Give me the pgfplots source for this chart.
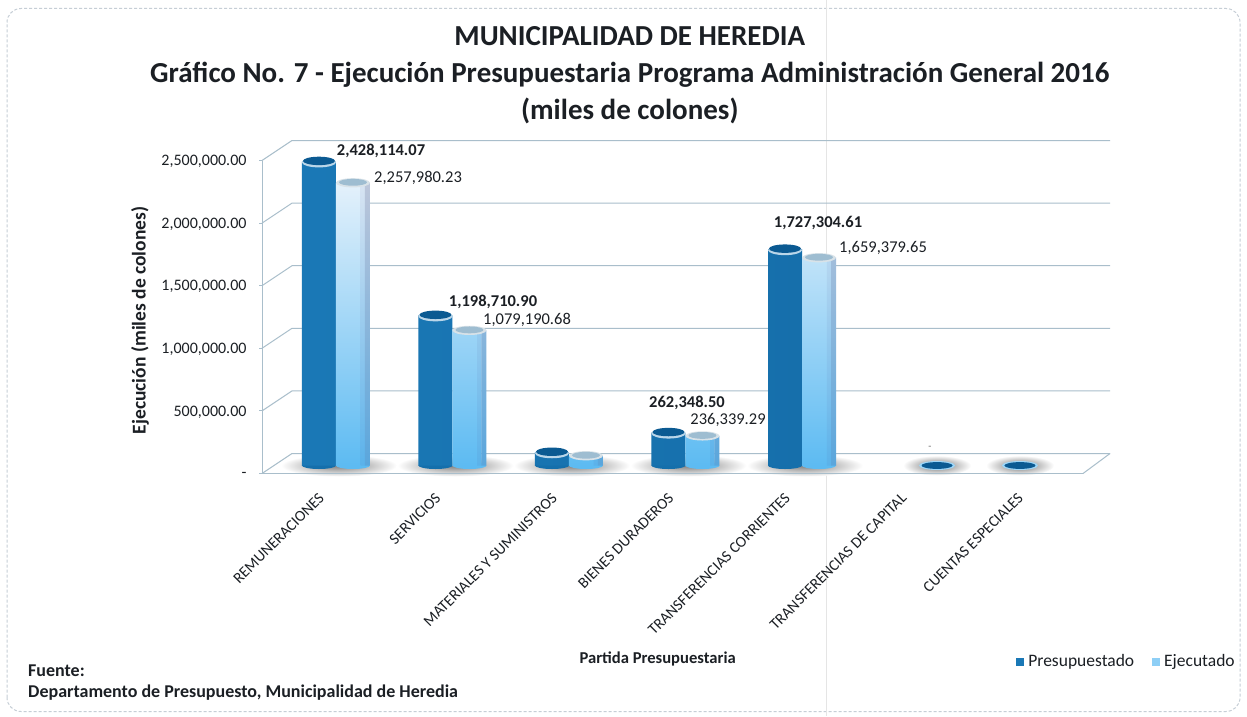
\documentclass[border=0pt]{standalone}
\usepackage{fontspec}
\setmainfont{Carlito}
\usepackage{pgfplots}
\usepackage{pgfplotstable}
\pgfplotsset{compat=1.18}
\definecolor{gridc}{HTML}{A9BECB}
\definecolor{framec}{HTML}{C6CED6}
\definecolor{dk}{HTML}{1A78B6}
\definecolor{dkd}{HTML}{0B5A92}
\definecolor{lt}{HTML}{5DBBF2}
\definecolor{lttop}{HTML}{E4F1FB}
\definecolor{ltaT}{HTML}{D8E4F2}
\definecolor{ltaB}{HTML}{5BB2EA}
\definecolor{ltbT}{HTML}{BCC6DA}
\definecolor{ltbB}{HTML}{5AA6DC}
\definecolor{txt}{HTML}{1B1F24}
\pgfplotstableread{
x pres ejec
0 2428114.07 2257980.23
1 1198710.90 1079190.68
2 105000 78000
3 262348.50 236339.29
4 1727304.61 1659379.65
}\data
\pgfplotstableread{
x v
5.159 0
5.871 0
}\zero
\newcommand{\Pt}[2]{(canvas cs:x=#1pt,y=#2pt)}
\pgfdeclareplotmark{topdk}{\fill[draw=none,white!70!dk] \Pt{0}{-0.9} ellipse [x radius=17pt,y radius=5pt];\fill[draw=none,dkd] \Pt{0}{0.6} ellipse [x radius=16pt,y radius=4.2pt];}
\pgfdeclareplotmark{toplt}{\fill[draw=none,white!55!gridc] \Pt{0}{0} ellipse [x radius=17pt,y radius=4.6pt];\fill[draw=none,gridc!85!lt] \Pt{0}{0.5} ellipse [x radius=14pt,y radius=3.4pt];}
\pgfdeclareplotmark{basedk}{\fill[draw=none,dk!70!dkd] \Pt{0}{0} ellipse [x radius=17pt,y radius=3.5pt];}
\pgfdeclareplotmark{baselt}{\fill[draw=none,lt] \Pt{0}{0} ellipse [x radius=17pt,y radius=3.5pt];}
\pgfdeclareplotmark{flat}{\fill[draw=none,white!40!lt] \Pt{0}{0} ellipse [x radius=18pt,y radius=4.5pt];\fill[draw=none,dkd] \Pt{0}{0} ellipse [x radius=15.5pt,y radius=3.4pt];}
\pgfdeclareplotmark{shadow}{\shade[draw=none,inner color=black!50,outer color=white] \Pt{3}{0} ellipse [x radius=58pt,y radius=11pt];}
\pgfdeclareplotmark{shadowsm}{\shade[draw=none,inner color=black!55,outer color=white] \Pt{0}{0} ellipse [x radius=34pt,y radius=10pt];}
\newcommand{\lab}[3]{\node[font=\fontsize{16.5}{18}\selectfont,text=txt] at (#1pt,715pt-#2pt) {#3};}
\newcommand{\labb}[3]{\node[font=\fontsize{16.5}{18}\selectfont\bfseries,text=txt] at (#1pt,715pt-#2pt) {#3};}
\begin{document}
\begin{tikzpicture}[x=1pt,y=1pt]
\fill[white] (0,0) rectangle (1247pt,715pt);
\draw[framec,line width=1pt,densely dashed,rounded corners=14pt] (7,4) rectangle (1240,707);
\draw[black!10,line width=1pt] (826,0) -- (826,715);
\begin{axis}[
  at={(262pt,242pt)},anchor=south west,
  scale only axis,width=821pt,height=313pt,
  xmin=-0.635,xmax=6.412,ymin=0,ymax=2500000,
  clip=false,clip mode=individual,scaled y ticks=false,
  axis x line*=bottom,axis y line*=left,
  axis line style={gridc,-,line width=1pt},
  xtick={0,1,2,3,4,5,6},
  xticklabels={REMUNERACIONES,SERVICIOS,MATERIALES Y SUMINISTROS,BIENES DURADEROS,TRANSFERENCIAS CORRIENTES,TRANSFERENCIAS DE CAPITAL,CUENTAS ESPECIALES},
  xticklabel style={rotate=45,anchor=north east,font=\fontsize{15.5}{18}\selectfont,text=txt,yshift=5.5pt,xshift=-20.3pt},
  x tick style={draw=none},
  ytick={0,500000,1000000,1500000,2000000,2500000},
  yticklabels={-\hspace{12pt},{500,000.00},{1,000,000.00},{1,500,000.00},{2,000,000.00},{2,500,000.00}},
  yticklabel style={font=\fontsize{16}{18}\selectfont,text=txt,xshift=-9pt,yshift=-1pt},
  y tick style={gridc,line width=1pt},
  tick align=outside,major tick length=3pt,
  ylabel={Ejecución (miles de colones)},
  ylabel style={at={(axis description cs:-0.1486,0.489)},anchor=center,font=\fontsize{19.5}{21}\selectfont\bfseries,text=txt},
  xlabel={Partida Presupuestaria},
  xlabel style={at={(axis description cs:0.482,-0.591)},anchor=center,font=\fontsize{16.6}{18}\selectfont\bfseries,text=txt},
  title={MUNICIPALIDAD DE HEREDIA\\Gráfico No. 7 - Ejecución Presupuestaria Programa Administración General 2016\\(miles de colones)},
  title style={at={(axis description cs:0.448,1.254)},anchor=center,align=center,font=\fontsize{29}{37}\selectfont\bfseries,text=txt},
  legend style={at={(axis description cs:1.053,-0.6)},anchor=center,draw=none,fill=none,font=\fontsize{17.5}{19}\selectfont,text=txt,legend columns=2,/tikz/every even column/.append style={column sep=16pt}},
  legend cell align=left,
  onfloor/.style={yshift=8pt},
]
\addlegendimage{only marks,mark=square*,mark size=3.5pt,color=dk}
\addlegendentry{\hspace{3pt}Presupuestado}
\addlegendimage{only marks,mark=square*,mark size=3.5pt,color=lt!70!white}
\addlegendentry{\hspace{3pt}Ejecutado}
% walls and gridlines
\pgfplotsinvokeforeach{0,500000,1000000,1500000,2000000,2500000}{
  \draw[gridc,line width=1pt] (axis cs:-0.635,#1) -- ([shift={(30pt,20pt)}]axis cs:-0.635,#1) -- ([shift={(27pt,20pt)}]axis cs:6.412,#1);
}
\draw[gridc,line width=1pt] (axis cs:6.412,0) -- ([shift={(27pt,20pt)}]axis cs:6.412,0);
% shadows
\addplot[only marks,mark=shadow,onfloor] table[x=x,y expr=0] {\data};
\addplot[only marks,mark=shadowsm,onfloor] table[x=x,y=v] {\zero};
% floor lines on top of the shadows
\addplot[gridc,line width=1pt,no marks] coordinates {(-0.635,0) (6.412,0)};
\addplot[gridc,line width=1pt,no marks,yshift=20pt] coordinates {(-0.375,0) (6.644,0)};
% presupuestado
\addplot[only marks,mark=basedk,onfloor,xshift=-17pt] table[x=x,y expr=0] {\data};
\addplot[ybar,bar width=34pt,bar shift=-17pt,draw=none,left color=dk,right color=dk!70!dkd,onfloor] table[x=x,y=pres] {\data};
\addplot[only marks,mark=topdk,onfloor,xshift=-17pt] table[x=x,y=pres] {\data};
% ejecutado
\addplot[only marks,mark=baselt,onfloor,xshift=17pt] table[x=x,y expr=0] {\data};
\addplot[ybar,bar width=25pt,bar shift=12.5pt,draw=none,top color=lttop,bottom color=lt,onfloor] table[x=x,y=ejec] {\data};
\addplot[ybar,bar width=4.5pt,bar shift=27pt,draw=none,top color=ltaT,bottom color=ltaB,onfloor] table[x=x,y=ejec] {\data};
\addplot[ybar,bar width=5pt,bar shift=31.5pt,draw=none,top color=ltbT,bottom color=ltbB,onfloor] table[x=x,y=ejec] {\data};
\addplot[only marks,mark=toplt,onfloor,xshift=17pt] table[x=x,y=ejec] {\data};
% near-zero categories
\addplot[only marks,mark=flat,onfloor] table[x=x,y=v] {\zero};
\end{axis}
\labb{381}{150}{2,428,114.07}
\lab{418}{177}{2,257,980.23}
\labb{493}{301}{1,198,710.90}
\lab{527}{319}{1,079,190.68}
\labb{687}{402}{262,348.50}
\lab{728}{419}{236,339.29}
\labb{818}{222}{1,727,304.61}
\lab{883}{247}{1,659,379.65}
\node[font=\fontsize{10}{12}\selectfont,text=black!60] at (930pt,715pt-447pt) {-};
\node[anchor=west,font=\fontsize{18}{20}\selectfont\bfseries,text=txt,inner sep=0pt] at (28pt,715pt-670pt) {Fuente:};
\node[anchor=west,font=\fontsize{18}{20}\selectfont\bfseries,text=txt,inner sep=0pt] at (28pt,715pt-692pt) {Departamento de Presupuesto, Municipalidad de Heredia};
\end{tikzpicture}
\end{document}
